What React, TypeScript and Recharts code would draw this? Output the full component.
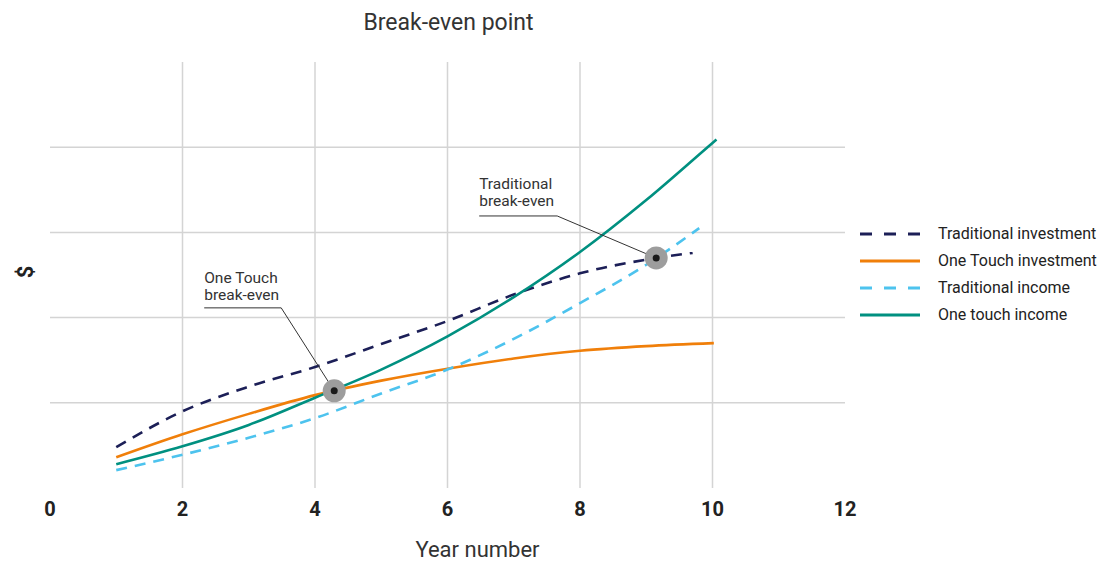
import {
  LineChart,
  Line,
  XAxis,
  YAxis,
  CartesianGrid,
  Legend,
  Label,
  ReferenceDot,
} from 'recharts'

// Years and values per series (values in grid units on a 0-5 scale)
const tradInvestYears = [1, 2, 3, 4, 5, 6, 7, 8, 9, 9.7]
const tradInvestValues = [0.48, 0.9, 1.19, 1.42, 1.69, 1.96, 2.27, 2.52, 2.68, 2.76]

const oneTouchInvestYears = [1, 2, 3, 4, 5, 6, 7, 8, 9, 10.02]
const oneTouchInvestValues = [0.36, 0.63, 0.87, 1.09, 1.26, 1.4, 1.52, 1.61, 1.665, 1.7]

const tradIncomeYears = [1, 2, 3, 4, 5, 6, 7, 8, 9, 9.8]
const tradIncomeValues = [0.21, 0.39, 0.59, 0.82, 1.11, 1.39, 1.75, 2.17, 2.62, 3.05]

const oneTouchIncomeYears = [1, 2, 3, 4, 5, 6, 7, 8, 9, 10, 10.06]
const oneTouchIncomeValues = [0.28, 0.49, 0.74, 1.06, 1.39, 1.78, 2.24, 2.77, 3.38, 4.05, 4.09]

const breakEvenYears = [4.29, 9.15]
const breakEvenValues = [1.14, 2.7]
const breakEvenLabels = [
  ['One Touch', 'break-even'],
  ['Traditional', 'break-even'],
]

const xTicks = [0, 2, 4, 6, 8, 10, 12]

const zip = (years: number[], values: number[]) =>
  years.map((year, i) => ({ year, value: values[i] }))

const SERIES = [
  { name: 'Traditional investment', color: '#1c1f57', dash: '11 8', data: zip(tradInvestYears, tradInvestValues) },
  { name: 'One Touch investment', color: '#f07f0a', dash: undefined, data: zip(oneTouchInvestYears, oneTouchInvestValues) },
  { name: 'Traditional income', color: '#4dc3ee', dash: '11 8', data: zip(tradIncomeYears, tradIncomeValues) },
  { name: 'One touch income', color: '#009080', dash: undefined, data: zip(oneTouchIncomeYears, oneTouchIncomeValues) },
]

// leader line geometry relative to the marker: elbow offset, underline length, text offsets
const CALLOUTS = [
  { elbowX: -53, elbowY: -83, underline: 77, textY: -108 },
  { elbowX: -99, elbowY: -42, underline: 78, textY: -69 },
]

const FONT = 'Roboto, "Open Sans", sans-serif'

function BreakEvenMarker(props: any) {
  const { cx, cy, index } = props
  const c = CALLOUTS[index]
  const lines = breakEvenLabels[index]
  const ex = cx + c.elbowX
  const ey = cy + c.elbowY
  return (
    <g>
      <polyline
        points={`${cx},${cy} ${ex},${ey} ${ex - c.underline},${ey}`}
        fill="none"
        stroke="#333"
        strokeWidth={1}
      />
      {lines.map((t, i) => (
        <text
          key={t}
          x={ex - c.underline}
          y={cy + c.textY + i * 17.5}
          fill="#333"
          fontSize={15.5}
          fontFamily={FONT}
        >
          {t}
        </text>
      ))}
      <circle cx={cx} cy={cy} r={11.5} fill="#9d9d9d" />
      <circle cx={cx} cy={cy} r={3.5} fill="#1a1a1a" />
    </g>
  )
}

function SeriesLegend() {
  return (
    <div style={{ fontFamily: FONT }}>
      {SERIES.map((s) => (
        <div key={s.name} style={{ display: 'flex', alignItems: 'center', height: 27 }}>
          <svg width={78} height={10}>
            <line
              x1={0}
              x2={60}
              y1={5}
              y2={5}
              stroke={s.color}
              strokeWidth={3}
              strokeDasharray={s.dash ? '12 12' : undefined}
            />
          </svg>
          <span style={{ fontSize: 16, color: '#222', whiteSpace: 'nowrap' }}>{s.name}</span>
        </div>
      ))}
    </div>
  )
}

export default function App() {
  return (
    <div style={{ position: 'absolute', left: 0, top: 0, width: 1107, height: 563, background: '#fff', fontFamily: FONT }}>
      <div
        style={{
          position: 'absolute',
          top: 9,
          left: 0,
          width: 897,
          textAlign: 'center',
          fontSize: 23,
          color: '#333',
        }}
      >
        Break-even point
      </div>
      <div
        style={{
          position: 'absolute',
          left: 25,
          top: 272,
          transform: 'translate(-50%, -50%) rotate(-90deg)',
          fontSize: 22,
          fontWeight: 700,
          color: '#222',
        }}
      >
        $
      </div>
      <LineChart width={1107} height={563} margin={{ top: 62, right: 262, left: 50, bottom: 0 }}>
        <CartesianGrid
          stroke="#d4d4d4"
          strokeWidth={1.5}
          horizontalValues={[1, 2, 3, 4]}
          verticalValues={[2, 4, 6, 8, 10]}
        />
        <XAxis
          type="number"
          dataKey="year"
          domain={[0, 12]}
          ticks={xTicks}
          axisLine={false}
          tickLine={false}
          tickMargin={8}
          height={75}
          tick={{ fill: '#222', fontSize: 20, fontWeight: 700, fontFamily: FONT }}
        >
          <Label
            value="Year number"
            position="insideBottom"
            offset={6}
            dx={30}
            style={{ fill: '#333', fontSize: 22, fontFamily: FONT }}
          />
        </XAxis>
        <YAxis type="number" domain={[0, 5]} hide />
        <Legend
          layout="vertical"
          align="center"
          verticalAlign="middle"
          wrapperStyle={{ left: 860, top: 220, width: 247 }}
          content={<SeriesLegend />}
        />
        {SERIES.map((s) => (
          <Line
            key={s.name}
            data={s.data}
            dataKey="value"
            name={s.name}
            type="monotone"
            stroke={s.color}
            strokeWidth={2.6}
            strokeDasharray={s.dash}
            dot={false}
            activeDot={false}
            isAnimationActive={false}
          />
        ))}
        {breakEvenYears.map((year, i) => (
          <ReferenceDot
            key={year}
            x={year}
            y={breakEvenValues[i]}
            r={12}
            ifOverflow="visible"
            shape={(p: any) => <BreakEvenMarker {...p} index={i} />}
          />
        ))}
      </LineChart>
    </div>
  )
}
